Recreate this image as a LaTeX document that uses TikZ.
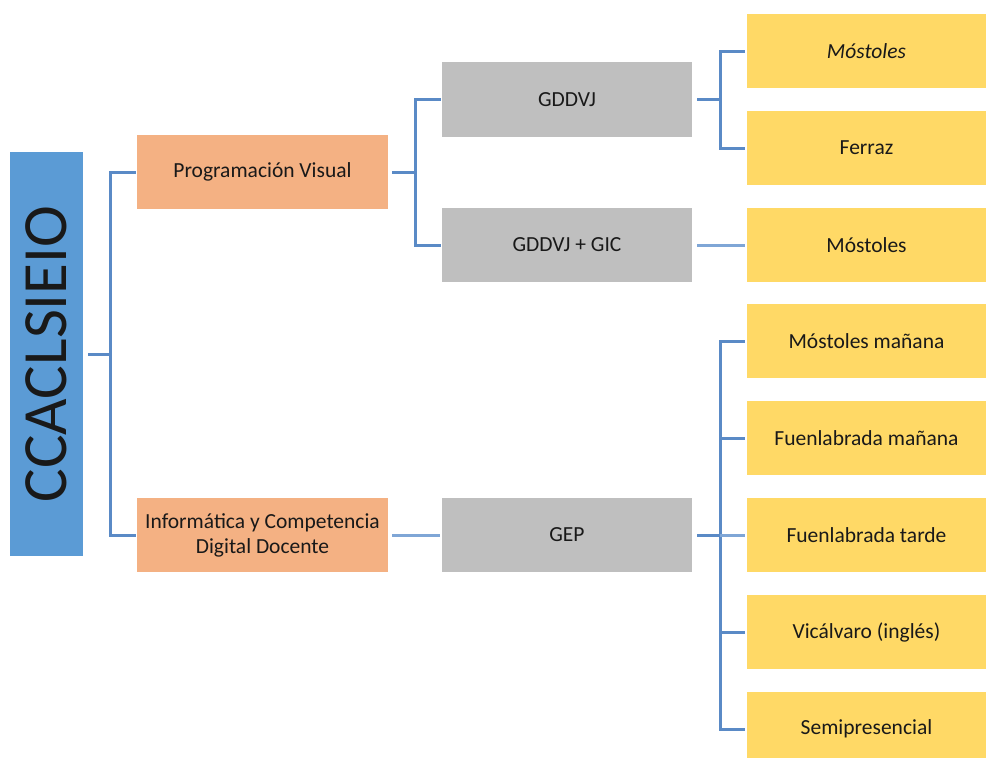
\documentclass[tikz,border=0pt]{standalone}
\usepackage{fontspec}
\setmainfont{Carlito}
\definecolor{rootblue}{HTML}{5B9BD5}
\definecolor{peach}{HTML}{F4B183}
\definecolor{midgray}{HTML}{BFBFBF}
\definecolor{gold}{HTML}{FFD966}
\definecolor{linkblue}{HTML}{5A8AC6}
\definecolor{linklight}{HTML}{7FA6D6}
\tikzset{
  box/.style={draw=none, inner sep=2pt, align=center, text=black!90,
    font=\fontsize{21.5}{25}\selectfont},
  rootbox/.style={box, fill=rootblue, minimum width=73pt, minimum height=404pt},
  areabox/.style={box, fill=peach, minimum width=251pt, minimum height=74pt},
  groupbox/.style={box, fill=midgray, minimum width=250pt, minimum height=74pt},
  sitebox/.style={box, fill=gold, minimum width=239pt, minimum height=74pt},
  conn/.style={draw=linkblue, line width=3pt},
  connlight/.style={draw=linklight, line width=3pt},
}
\begin{document}
\begin{tikzpicture}[x=1pt,y=-1pt]
\useasboundingbox (0,0) rectangle (986,758);
\clip (0,0) rectangle (986,758);

% root
\node[rootbox] (root) at (46.5,354)
  {\rotatebox{90}{\fontsize{63}{70}\selectfont CCACLSIEIO}};

% subject areas
\node[areabox] (pv) at (262.5,172) {Programación Visual};
\node[areabox] (icdd) at (262.5,535) {Informática y Competencia\\Digital Docente};

% groups
\node[groupbox, minimum height=75pt] (g1) at (567,99.5) {GDDVJ};
\node[groupbox] (g2) at (567,245) {GDDVJ + GIC};
\node[groupbox] (gep) at (567,535) {GEP};

% campuses
\node[sitebox] (y1) at (866.5,51) {\itshape Móstoles};
\node[sitebox] (y2) at (866.5,148) {Ferraz};
\node[sitebox] (y3) at (866.5,245) {Móstoles};
\node[sitebox] (y4) at (866.5,341) {Móstoles mañana};
\node[sitebox] (y5) at (866.5,438) {Fuenlabrada mañana};
\node[sitebox] (y6) at (866.5,535) {Fuenlabrada tarde};
\node[sitebox] (y7) at (866.5,632) {Vicálvaro (inglés)};
\node[sitebox] (y8) at (866.5,729) {Semipresencial};

% junction points of the brackets
\path (root.east) ++(27,0) coordinate (ja);
\path (pv.east) ++(27,0) coordinate (jb);
\path (g1.east) ++(28,0) coordinate (jc);
\path (gep.east) ++(28,0) coordinate (je);

% root bracket
\draw[conn] ([xshift=5pt]root.east) -- (ja);
\draw[conn] ([xshift=-1pt]pv.west) -| (ja) |- ([xshift=-1pt]icdd.west);

% Programacion Visual bracket
\draw[conn] ([xshift=4pt]pv.east) -- (jb);
\draw[conn] ([xshift=-1pt]g1.west) -| (jb) |- ([xshift=-1pt]g2.west);

% GDDVJ bracket
\draw[conn] ([xshift=5pt]g1.east) -- (jc);
\draw[conn] ([xshift=-2pt]y1.west) -| (jc) |- ([xshift=-2pt]y2.west);

% single links
\draw[connlight] ([xshift=5pt]g2.east) -- ([xshift=-2pt]y3.west);
\draw[connlight] ([xshift=4pt]icdd.east) -- ([xshift=-2pt]gep.west);

% GEP bracket
\draw[conn] ([xshift=-2pt]y4.west) -| (je) |- ([xshift=-2pt]y8.west);
\draw[conn] (je |- y5.west) -- ([xshift=-2pt]y5.west);
\draw[connlight] (je |- y6.west) -- ([xshift=-2pt]y6.west);
\draw[conn] (je |- y7.west) -- ([xshift=-2pt]y7.west);
\draw[conn] ([xshift=5pt]gep.east) -- (je);
\end{tikzpicture}
\end{document}
